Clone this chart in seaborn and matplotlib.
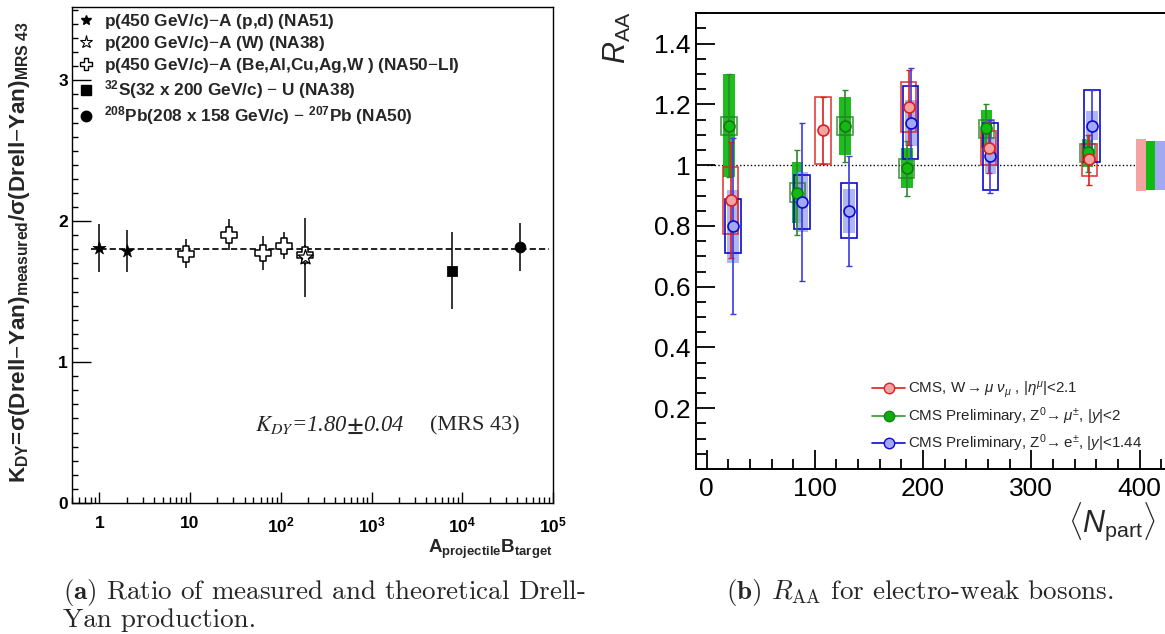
import numpy as np
import pandas as pd
import matplotlib
matplotlib.use("Agg")
import matplotlib.pyplot as plt
import seaborn as sns
from matplotlib.lines import Line2D
from matplotlib.ticker import MultipleLocator, FixedLocator, LogLocator, NullFormatter, FuncFormatter

# ---------------- data: panel (a) ----------------
ab_na51 = [1, 2]
k_na51 = [1.81, 1.79]
ke_na51 = [0.17, 0.15]
ab_na38p = [184]
k_na38p = [1.745]
ke_na38p = [0.28]
ab_na50p = [9, 27, 63.5, 108, 184]
k_na50p = [1.77, 1.905, 1.775, 1.825, 1.76]
ke_na50p = [0.10, 0.11, 0.12, 0.095, 0.07]
ab_s_u = [7616]
k_s_u = [1.65]
ke_s_u = [0.27]
ab_pb_pb = [43056]
k_pb_pb = [1.815]
ke_pb_pb = [0.17]
k_dy_fit = 1.80
k_dy_err = 0.04
legend_a = [
    "p(450 GeV/c)$-$A (p,d) (NA51)",
    "p(200 GeV/c)$-$A (W) (NA38)",
    "p(450 GeV/c)$-$A (Be,Al,Cu,Ag,W ) (NA50$-$LI)",
    r"$^{\mathbf{32}}$S(32 x 200 GeV/c) $-$ U (NA38)",
    r"$^{\mathbf{208}}$Pb(208 x 158 GeV/c) $-$ $^{\mathbf{207}}$Pb (NA50)",
]
xticks_a = [1, 10, 100, 1000, 1e4, 1e5]
xticklabels_a = ["1", "10", r"$\mathbf{10^{2}}$", r"$\mathbf{10^{3}}$", r"$\mathbf{10^{4}}$", r"$\mathbf{10^{5}}$"]
yticks_a = [0, 1, 2, 3]

# ---------------- data: panel (b) ----------------
npart_w = [22.2, 107.7, 186.5, 260.4, 353.6]
raa_w = [0.885, 1.115, 1.192, 1.057, 1.019]
w_err_hi = [1.075, 1.224, 1.314, 1.142, 1.101]
w_err_lo = [0.693, 1.005, 1.067, 0.975, 0.936]
w_sys_hi = [0.993, 1.224, 1.274, 1.111, 1.071]
w_sys_lo = [0.775, 1.005, 1.110, 1.002, 0.964]

npart_zmu = [20.6, 84.0, 127.7, 184.7, 258.5, 351.8]
raa_zmu = [1.130, 0.910, 1.130, 0.990, 1.121, 1.042]
zmu_err_hi = [1.300, 1.050, 1.249, 1.080, 1.200, 1.099]
zmu_err_lo = [0.962, 0.770, 1.010, 0.899, 1.050, 0.978]
zmu_fill_hi = [1.299, 1.010, 1.224, 1.056, 1.181, 1.085]
zmu_fill_lo = [0.962, 0.810, 1.034, 0.925, 1.057, 0.995]
zmu_box_hi = [1.160, 0.940, 1.160, 1.020, 1.150, 1.070]
zmu_box_lo = [1.098, 0.879, 1.098, 0.959, 1.088, 1.009]

npart_zee = [24.3, 88.3, 131.7, 188.6, 262.2, 356.0]
raa_zee = [0.799, 0.879, 0.850, 1.139, 1.030, 1.130]
zee_err_hi = [1.090, 1.140, 1.030, 1.321, 1.150, 1.249]
zee_err_lo = [0.510, 0.620, 0.669, 1.019, 0.909, 1.009]
zee_fill_hi = [0.918, 0.976, 0.921, 1.214, 1.093, 1.178]
zee_fill_lo = [0.679, 0.781, 0.776, 1.062, 0.970, 1.082]
zee_box_hi = [0.890, 0.969, 0.940, 1.260, 1.140, 1.249]
zee_box_lo = [0.710, 0.789, 0.759, 1.019, 0.920, 1.009]

global_unc = [0.086, 0.080, 0.080]   # W, Z->mumu, Z->ee

legend_b = [
    r"CMS, W$\rightarrow\mu\ \nu_{\mu}$ , $\left|\eta^{\mu}\right|$<2.1",
    r"CMS Preliminary, Z$^{0}\!\rightarrow\mu^{\pm}$, $|y|$<2",
    r"CMS Preliminary, Z$^{0}\!\rightarrow$e$^{\pm}$, $|y|$<1.44",
]
xticks_b = [0, 100, 200, 300, 400]
yticks_b = [0.2, 0.4, 0.6, 0.8, 1.0, 1.2, 1.4]

# ---------------- style ----------------
sns.set_theme(style="white")
plt.rcParams["font.family"] = ["Liberation Sans", "DejaVu Sans"]
plt.rcParams["mathtext.fontset"] = "custom"
plt.rcParams["mathtext.rm"] = "Liberation Sans"
plt.rcParams["mathtext.it"] = "Liberation Sans:italic"
plt.rcParams["mathtext.bf"] = "Liberation Sans:bold"
plt.rcParams["axes.edgecolor"] = "black"
plt.rcParams["axes.linewidth"] = 1.1
plt.rcParams["xtick.color"] = "black"
plt.rcParams["ytick.color"] = "black"

W, H = 1165, 634
fig = plt.figure(figsize=(W / 100, H / 100), dpi=100)
fig.patch.set_facecolor("white")

def fx(px):
    return px / W

def fy(py):
    return 1 - py / H

# ================= panel (a) =================
axa = fig.add_axes([fx(72), fy(503), fx(553) - fx(72), fy(7) - fy(503)])
axa.set_facecolor("white")

def err_a(x, y, e):
    axa.errorbar(x, y, yerr=e, fmt="none", ecolor="black", elinewidth=1.1, capsize=0, zorder=2)

err_a(ab_na51, k_na51, ke_na51)
err_a(ab_na38p, k_na38p, ke_na38p)
err_a(ab_na50p, k_na50p, ke_na50p)
err_a(ab_s_u, k_s_u, ke_s_u)
err_a(ab_pb_pb, k_pb_pb, ke_pb_pb)

sns.scatterplot(x=ab_na50p, y=k_na50p, ax=axa, marker="P", s=130, facecolor="white",
                edgecolor="black", linewidth=1.1, zorder=4)
sns.scatterplot(x=ab_na38p, y=k_na38p, ax=axa, marker="*", s=130, facecolor="white",
                edgecolor="black", linewidth=0.9, zorder=5)
sns.scatterplot(x=ab_na51, y=k_na51, ax=axa, marker="*", s=95, color="black",
                edgecolor="black", linewidth=0.5, zorder=4)
sns.scatterplot(x=ab_s_u, y=k_s_u, ax=axa, marker="s", s=50, color="black",
                edgecolor="black", zorder=4)
sns.scatterplot(x=ab_pb_pb, y=k_pb_pb, ax=axa, marker="o", s=60, color="black",
                edgecolor="black", zorder=4)

axa.hlines(k_dy_fit, 0.8, 9e4, colors="#222222", linestyles=(0, (3.2, 1.6)), linewidth=1.4, zorder=1)

axa.set_xscale("log")
axa.set_xlim(0.5, 1e5)
axa.set_ylim(0, 3.52)
axa.xaxis.set_major_locator(FixedLocator(xticks_a))
axa.set_xticklabels(xticklabels_a)
axa.xaxis.set_minor_locator(LogLocator(base=10, subs=np.arange(2, 10), numticks=20))
axa.xaxis.set_minor_formatter(NullFormatter())
axa.yaxis.set_major_locator(FixedLocator(yticks_a))
axa.yaxis.set_minor_locator(MultipleLocator(0.1))
axa.tick_params(axis="x", which="major", direction="in", length=8, width=1, pad=9,
                labelsize=12.5, bottom=True, top=False)
axa.tick_params(axis="x", which="minor", direction="in", length=4, width=1, bottom=True, top=False)
axa.tick_params(axis="y", which="major", direction="in", length=14, width=1, pad=3,
                labelsize=12.5, left=True, right=False)
axa.tick_params(axis="y", which="minor", direction="in", length=4, width=1, left=True, right=False)
for lab in axa.get_xticklabels() + axa.get_yticklabels():
    lab.set_fontweight("bold")
for sp in axa.spines.values():
    sp.set_visible(True)
    sp.set_linewidth(1.0)

axa.set_ylabel(r"K$_{\mathbf{DY}}$=σ(Drell$-$Yan)$_{\mathbf{measured}}$/σ(Drell$-$Yan)$_{\mathbf{MRS\ 43}}$",
               fontsize=16.2, fontweight="bold")
axa.yaxis.set_label_coords(-0.083, 0.505)
axa.set_xlabel(r"A$_{\mathbf{projectile}}$B$_{\mathbf{target}}$", fontsize=13.5, fontweight="bold", loc="right")
axa.xaxis.set_label_coords(1.0, -0.07)

handles_a = [
    Line2D([], [], ls="none", marker="*", ms=7.5, mfc="black", mec="black"),
    Line2D([], [], ls="none", marker="*", ms=9.5, mfc="white", mec="black", mew=0.8),
    Line2D([], [], ls="none", marker="P", ms=8.5, mfc="white", mec="black", mew=1.0),
    Line2D([], [], ls="none", marker="s", ms=7, mfc="black", mec="black"),
    Line2D([], [], ls="none", marker="o", ms=7.5, mfc="black", mec="black"),
]
axa.legend(handles_a, legend_a, loc="upper left", bbox_to_anchor=(fx(77), fy(12)),
           bbox_transform=fig.transFigure, frameon=False, handlelength=1.0,
           handletextpad=0.55, labelspacing=0.18, borderpad=0, borderaxespad=0,
           prop={"weight": "bold", "size": 12.4})

axa.text(2335, 0.55, r"$K_{DY}$=1.80$\mathbf{\pm}$0.04", fontsize=16.3, family="Liberation Serif",
         style="italic", math_fontfamily="stix", ha="right", va="center")
axa.text(4400, 0.55, "(MRS 43)", fontsize=16, family="Liberation Serif", ha="left", va="center")

# ================= panel (b) =================
axb = fig.add_axes([fx(695.7), fy(469), fx(1172.2) - fx(695.7), fy(13.3) - fy(469)])
axb.set_facecolor("white")

red_e, red_f = "#dd1f1f", "#f4a3a3"
grn_e, grn_f, grn_box = "#137a13", "#11bb11", "#1f7f1f"
blu_e, blu_f = "#0a0ad0", "#a3a8f2"

W_FILL, W_BOX = 11.0, 14.2

def asym(vals, lo, hi):
    v = np.asarray(vals)
    return [v - np.asarray(lo), np.asarray(hi) - v]

# filled systematic boxes
axb.bar(npart_zmu, np.subtract(zmu_fill_hi, zmu_fill_lo), bottom=zmu_fill_lo, width=W_FILL,
        color=grn_f, alpha=0.95, linewidth=0, zorder=1)
axb.bar(npart_zee, np.subtract(zee_fill_hi, zee_fill_lo), bottom=zee_fill_lo, width=W_FILL,
        color=blu_f, alpha=0.85, linewidth=0, zorder=1)
# open boxes
axb.bar(npart_zmu, np.subtract(zmu_box_hi, zmu_box_lo), bottom=zmu_box_lo, width=W_BOX,
        fill=False, edgecolor=grn_box, linewidth=1.2, alpha=0.8, zorder=2)
axb.bar(npart_w, np.subtract(w_sys_hi, w_sys_lo), bottom=w_sys_lo, width=W_BOX,
        fill=False, edgecolor=red_e, linewidth=1.2, alpha=0.85, zorder=2)
axb.bar(npart_zee, np.subtract(zee_box_hi, zee_box_lo), bottom=zee_box_lo, width=W_BOX,
        fill=False, edgecolor=blu_e, linewidth=1.2, zorder=2)
# error bars
axb.errorbar(npart_zmu, raa_zmu, yerr=asym(raa_zmu, zmu_err_lo, zmu_err_hi), fmt="none",
             ecolor="#2a8a2a", elinewidth=1.2, capsize=2, capthick=1.0, zorder=3)
axb.errorbar(npart_w, raa_w, yerr=asym(raa_w, w_err_lo, w_err_hi), fmt="none",
             ecolor=red_e, elinewidth=1.2, capsize=2, capthick=1.0, zorder=3)
axb.errorbar(npart_zee, raa_zee, yerr=asym(raa_zee, zee_err_lo, zee_err_hi), fmt="none",
             ecolor="#3a3ae0", elinewidth=1.2, capsize=2, capthick=1.0, zorder=3)
# markers
sns.scatterplot(x=npart_zmu, y=raa_zmu, ax=axb, marker="o", s=62, facecolor=grn_f,
                edgecolor=grn_e, linewidth=1.2, zorder=4)
sns.scatterplot(x=npart_zee, y=raa_zee, ax=axb, marker="o", s=62, facecolor=blu_f,
                edgecolor=blu_e, linewidth=1.2, zorder=4)
sns.scatterplot(x=npart_w, y=raa_w, ax=axb, marker="o", s=62, facecolor=red_f,
                edgecolor=red_e, linewidth=1.2, zorder=5)

# global uncertainty boxes
glob_x = [401.0, 409.75, 418.5]
glob_w = [9.2, 8.3, 9.2]
axb.bar(glob_x, np.multiply(global_unc, 2), bottom=np.subtract(1, global_unc), width=glob_w,
        color=[red_f, grn_f, blu_f], linewidth=0, zorder=1)

axb.hlines(1.0, 0, 430, colors="black", linestyles=(0, (1, 1.6)), linewidth=1.0, zorder=0.5)

axb.set_xlim(-10, 430)
axb.set_ylim(0, 1.5)
axb.xaxis.set_major_locator(FixedLocator(xticks_b))
axb.xaxis.set_minor_locator(MultipleLocator(20))
axb.yaxis.set_major_locator(FixedLocator(yticks_b))
axb.yaxis.set_minor_locator(MultipleLocator(0.05))
axb.yaxis.set_major_formatter(FuncFormatter(lambda v, p: f"{v:g}"))
axb.tick_params(which="major", direction="in", length=14, width=1.3, labelsize=19,
                bottom=True, left=True, top=False, right=False)
axb.tick_params(which="minor", direction="in", length=7, width=1.3,
                bottom=True, left=True, top=False, right=False)
axb.tick_params(axis="y", pad=4)
axb.tick_params(axis="x", pad=6)
for sp in axb.spines.values():
    sp.set_linewidth(1.4)
axb.spines["right"].set_visible(False)

handles_b = [
    Line2D([], [], color=red_e, lw=1.2, marker="o", ms=7.5, mfc=red_f, mec=red_e),
    Line2D([], [], color="#2a9a2a", lw=1.2, marker="o", ms=7.5, mfc="#11aa11", mec="#0d8a0d"),
    Line2D([], [], color=blu_e, lw=1.2, marker="o", ms=7.5, mfc=blu_f, mec=blu_e),
]
axb.legend(handles_b, legend_b, loc="upper left", bbox_to_anchor=(fx(872), fy(380)),
           bbox_transform=fig.transFigure, frameon=False, handlelength=2.2,
           handletextpad=0.2, labelspacing=0.35, borderpad=0, borderaxespad=0,
           prop={"size": 10.9})

fig.text(fx(617), fy(38), r"$R_{\mathrm{AA}}$", rotation=90, fontsize=22, ha="center", va="center")
fig.text(fx(1112), fy(522), r"$\langle N_{\mathrm{part}}\rangle$", fontsize=22, ha="center", va="center")

# ================= captions =================
fig.text(fx(63), fy(592), r"$\mathbf{(a)}$ Ratio of measured and theoretical Drell-",
         family="cmr10", math_fontfamily="cm", fontsize=19.5, ha="left", va="center")
fig.text(fx(63), fy(620), "Yan production.",
         family="cmr10", math_fontfamily="cm", fontsize=19.5, ha="left", va="center")
fig.text(fx(920), fy(592), r"$\mathbf{(b)}$ $R_{\rm AA}$ for electro-weak bosons.",
         family="cmr10", math_fontfamily="cm", fontsize=19.5, ha="center", va="center")

fig.savefig("out.png", dpi=100, facecolor="white")
